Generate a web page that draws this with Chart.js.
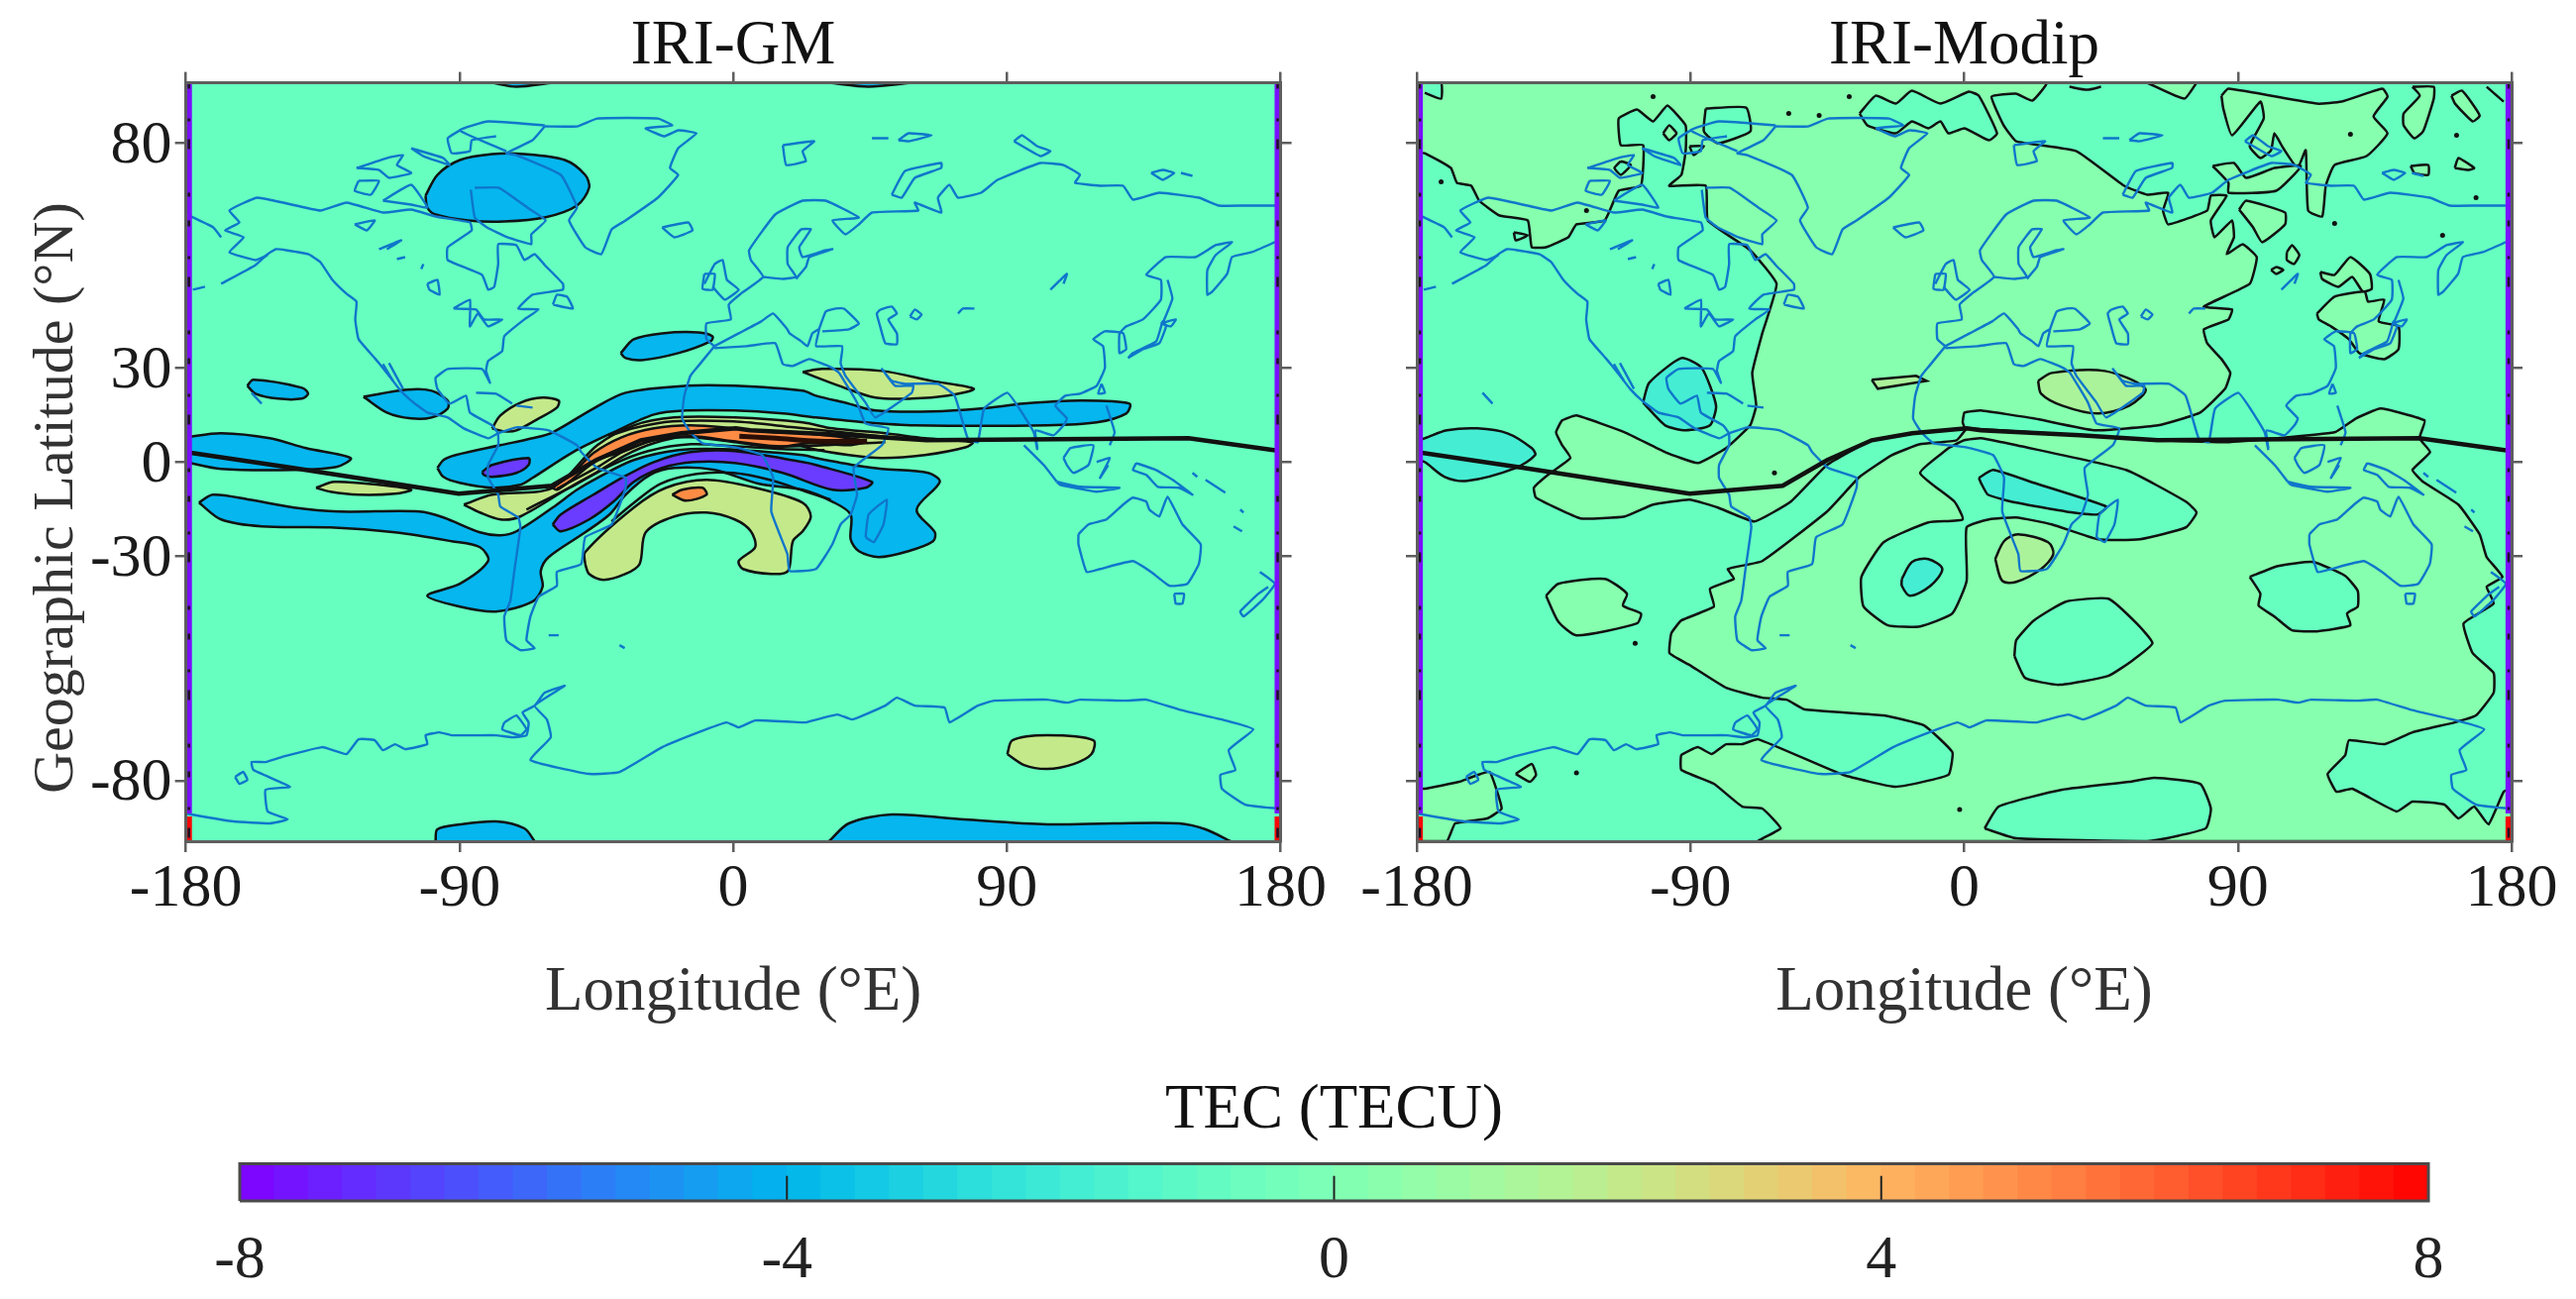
<!DOCTYPE html>
<html>
<head>
<meta charset="utf-8">
<script src="https://cdn.jsdelivr.net/npm/chart.js@4/dist/chart.umd.js"></script>
<style>
body { margin: 0; background: #fff; width: 2600px; height: 1311px; overflow: hidden; position: relative; }
canvas { position: absolute; }
</style>
</head>
<body>
<canvas id="gm" width="1360" height="1060" style="left:0;top:0"></canvas>
<canvas id="modip" width="1260" height="1060" style="left:1340px;top:0"></canvas>
<canvas id="bar" width="2600" height="221" style="left:0;top:1090px"></canvas>
<script>
// y values are map heights on the stretched latitude axis, tick positions below
var lonTicks = [-180, -90, 0, 90, 180];
var latTicks = [-80, -30, 0, 30, 80];
var latTickHeights = [-322, -95, 0, 95, 322];
var mapTop = 383;
var colorbarTicks = [-4, 0, 4];
var colorbarBands = [-7.875,-7.625,-7.375,-7.125,-6.875,-6.625,-6.375,-6.125,-5.875,-5.625,-5.375,-5.125,-4.875,-4.625,-4.375,-4.125,
  -3.875,-3.625,-3.375,-3.125,-2.875,-2.625,-2.375,-2.125,-1.875,-1.625,-1.375,-1.125,-0.875,-0.625,-0.375,-0.125,
  0.125,0.375,0.625,0.875,1.125,1.375,1.625,1.875,2.125,2.375,2.625,2.875,3.125,3.375,3.625,3.875,
  4.125,4.375,4.625,4.875,5.125,5.375,5.625,5.875,6.125,6.375,6.625,6.875,7.125,7.375,7.625,7.875];

var magneticEquator = [[-180,10],[-144.8,-6],[-90.3,-32],[-59.7,-24],[-45,2],[-30.4,22],[-17.1,29],[0.8,34],[5.5,32],[38,27],[63.6,22],[149.7,24],[180,11]];

var coastlines = [
  // north america pacific side, down to panama
  [[-168.4,180],[-157.1,199],[-153.1,210],[-150.4,215],[-147.1,214],[-139.8,210],[-135.8,202],[-131.8,184],[-127.2,170],[-123.9,162],[-124.3,144],[-123.2,124],[-117.9,105],[-113.9,90],[-109.9,74],[-105.9,62],[-100.6,50],[-93.9,45],[-88.6,34],[-80.6,24],[-77.3,29]],
  // south america
  [[-77.3,29],[-77.3,17],[-80.6,-3],[-80.6,-16],[-77.3,-33],[-76.6,-45],[-70.7,-56],[-70,-66],[-72,-110],[-73.3,-140],[-75.3,-156],[-74.6,-180],[-70,-190],[-65.3,-188],[-68,-180],[-66.7,-156],[-64,-136],[-58,-125],[-58,-111],[-50,-103],[-48.7,-76],[-40,-63],[-35.4,-26],[-35.4,-16],[-44.7,-6],[-50,10],[-51.4,17],[-60.7,32],[-71.3,35],[-77.3,29]],
  // alaska, arctic coast, hudson bay, atlantic and gulf
  [[-153.1,209],[-157.1,204],[-165.7,212],[-161,227],[-167.1,234],[-162.4,242],[-165.7,254],[-156.4,267],[-135.8,254],[-127.2,262],[-115.2,252],[-105.9,255],[-97.9,248],[-86.6,242],[-86,234],[-93.9,217],[-93.9,204],[-82.6,189],[-80.6,174],[-78.6,177],[-77.3,200],[-77.3,220],[-71.3,219],[-68.7,204],[-65.3,210],[-62,199],[-56,180],[-56,174],[-66,169],[-70.7,155],[-64,154],[-68.7,144],[-75.3,127],[-76,112],[-80.6,102],[-81.3,92],[-80,80],[-82.6,94],[-93.9,94],[-97.9,85],[-97.3,74],[-93.3,59],[-87.9,67],[-86.6,50],[-79.3,37],[-77.3,29]],
  [[-115.2,99],[-111.9,82]],
  [[-113.2,100],[-108.6,74]],
  [[-59.3,159],[-58,169],[-54.7,167],[-52.7,155],[-59.3,159]],
  [[-92,155],[-86.6,164],[-86.6,137],[-84,150],[-80.6,137],[-76,144],[-82,144],[-84.6,154],[-92,155]],
  // greenland
  [[-62,339],[-51.4,339],[-44.7,347],[-24.8,347],[-20.1,340],[-28.8,337],[-22.8,329],[-18.1,335],[-12.1,332],[-18.1,317],[-20.8,297],[-18.1,290],[-24.8,267],[-35.4,244],[-40,235],[-43.4,210],[-48.7,217],[-54,244],[-51.4,257],[-56.7,290],[-71.3,310],[-74.6,312],[-66,325],[-62,339]],
  // canadian arctic
  [[-74.6,314],[-89.9,335],[-80.6,344],[-62,340]],
  [[-89.9,335],[-93.9,327],[-92.6,312],[-86.6,314],[-86,325],[-78,329]],
  [[-123.9,297],[-113.9,307],[-108.6,310],[-110.6,300],[-105.9,292],[-113.2,287],[-116.5,295],[-123.9,297]],
  [[-123.2,284],[-116.5,284],[-119.2,270],[-124.5,274],[-123.2,284]],
  [[-105.9,317],[-95.3,307],[-93.3,300],[-101.9,309],[-105.9,317]],
  [[-85,277],[-77,277],[-67.7,257],[-61.7,244],[-66.4,230],[-66.4,220],[-74.3,227],[-81,237],[-85,247],[-86.3,275]],
  [[-115.2,264],[-105.9,280],[-100.6,257],[-105.9,260],[-115.2,264]],
  [[-124.5,240],[-117.9,244],[-120.5,234],[-124.5,240]],
  [[-116.5,215],[-109.2,224],[-113.9,215]],
  [[-110.6,205],[-107.9,207]],
  [[-102.6,195],[-101.9,200]],
  [[-100.6,180],[-97.3,184],[-96.6,169],[-99.9,174],[-100.6,180]],
  // iceland, britain, ireland
  [[-23.4,237],[-14.8,242],[-13.4,234],[-19.4,227],[-23.4,237]],
  [[-9.5,180],[-6.1,200],[-3.5,204],[-2.1,184],[1.8,174],[-2.8,164],[-6.8,177]],
  [[-9.5,190],[-6.1,190],[-6.8,174],[-10.1,175],[-9.5,190]],
  // africa
  [[-6.2,117],[-11.5,97],[-14.1,87],[-16.1,67],[-16.8,44],[-14.1,30],[-10.1,19],[0.5,15],[9.5,7],[13.1,-16],[12.5,-50],[17.8,-93],[18.5,-110],[27.2,-108],[32.6,-83],[35.3,-63],[38.6,-53],[40.7,-33],[39.6,-6],[48.9,17],[51,34],[43.5,39],[40.7,60],[34.8,90],[32.6,95],[25,104],[19.6,97],[16.3,99],[13.8,120],[4.5,117],[-6.2,115]],
  [[43.5,-76],[44.5,-53],[50.5,-38],[49.4,-63],[46.2,-81],[43.5,-76]],
  // eurasia, atlantic and arctic side
  [[-6.2,117],[-8.8,124],[-8.8,140],[-0.8,144],[-1.5,159],[2.5,170],[9.8,187],[5.8,204],[5.2,214],[13.8,250],[22.8,264],[30.4,264],[41.3,247],[32.6,244],[36.9,230],[41.3,240],[45.6,252],[60.8,254],[59.7,262],[68.4,252],[67.3,267],[71.1,280],[73.9,267],[81.5,272],[86.9,285],[101,302],[108.6,300],[114,290],[112.4,282],[120.6,279],[128.2,279],[131.4,265],[140.1,272],[153.1,267],[159.7,259],[168.3,259],[180,259]],
  [[9.8,187],[16.3,185],[20.6,187],[17.9,200],[17.9,217],[22.3,235],[25.5,235],[21.7,217],[22.8,207],[30.4,214],[32.6,215],[25,207],[23.9,197],[20.6,185]],
  // mediterranean north, arabia, india, indochina
  [[-6.2,117],[1.8,130],[9.2,142],[13.1,150],[17.8,134],[18.5,130],[22.3,122],[24.4,117],[26,130],[28.2,134],[27.2,117],[35.8,117],[35.3,100],[36.9,87],[43.5,60],[46.7,45],[58.7,70],[59.2,77],[53.2,77],[48.9,94],[52.1,82],[56.5,79],[67.3,79],[72.8,67],[77.1,24],[80.4,20],[82.5,54],[90.1,70],[94.5,52],[98.8,30],[100,12]],
  [[28.2,134],[30.4,152],[33.7,155],[36.4,155],[41.3,140],[38,134],[29.3,132]],
  // far east
  [[178.1,222],[170.5,212],[164,207],[162.4,190],[157.5,172],[155.9,169],[155.9,194],[158.6,209],[164,222],[158.6,219],[152,207],[142.3,207],[135.8,189],[140.6,184],[140.6,164],[134.7,144],[129.2,137],[127,130],[127,110],[129.2,114],[128.2,130],[122.2,132],[118.4,124],[121.6,117],[122.2,95],[119.5,77],[114,69],[109.2,67],[105.9,57],[109.7,44],[108.6,37],[105.3,27],[99.4,32],[100,14]],
  [[142.8,184],[144.4,165],[141.2,140]],
  [[129.8,105],[134.7,114],[140.1,120],[142.3,137],[141.2,142],[139.1,122],[131.4,110],[129.8,105]],
  [[140.6,140],[145.5,144],[143.9,137],[140.6,140]],
  [[121.1,79],[122.2,70],[120,69],[121.1,79]],
  [[104.3,174],[109.7,190],[108.6,180]],
  [[73.9,150],[75.5,155],[79.3,155]],
  [[48.3,154],[52.1,157],[53.8,150],[51,144],[53.8,130],[53.8,119],[50,120],[48.3,137],[47.2,150],[48.3,154]],
  [[58.1,147],[59.7,154],[61.9,149],[60.3,144],[58.1,147]],
  // arctic islands
  [[92.3,324],[95,330],[99.9,319],[104.3,314],[101,309],[92.3,324]],
  [[52.1,270],[56.5,294],[68.4,302],[68.4,297],[59.7,287],[55.4,267],[52.1,270]],
  [[16.3,320],[26.6,324],[22.8,314],[23.9,304],[17.4,300],[16.3,320]],
  [[45.6,327],[51,327]],
  [[54.3,325],[57.6,332],[65.2,330],[57.6,324],[54.3,325]],
  [[137.4,292],[141.2,295],[145,292],[141.2,285],[137.4,292]],
  [[147.2,292],[151,289]],
  [[-179.7,250],[-171,237],[-168.4,227]],
  // indonesia, pacific
  [[95.6,17],[102.1,-3],[106.4,-20]],
  [[106.4,-20],[114,-25],[127,-26],[119.5,-30],[107.5,-23],[106.4,-20]],
  [[108.6,4],[110.8,14],[118.4,17],[116.8,-3],[111.9,-11],[109.7,-3],[108.6,4]],
  [[119.5,0],[123.8,4],[120.6,-16],[123.3,-3]],
  [[132.5,-1],[139,-8],[144.5,-18],[151,-33],[146.6,-26],[139.6,-25],[135.8,-13],[131.4,-8],[132.5,-1]],
  [[151,-11],[152.6,-15]],
  [[122.7,57],[125.4,30],[123.8,17]],
  [[155.3,-18],[161.8,-31]],
  [[166.7,-48],[167.8,-51]],
  [[164.5,-65],[167.3,-70]],
  [[113.5,-73],[116.8,-63],[122.7,-58],[128.2,-43],[131.4,-36],[135.8,-40],[136.8,-48],[140.1,-55],[142.8,-35],[147.7,-63],[153.7,-83],[153.1,-103],[149.3,-123],[143.4,-125],[137.4,-111],[131.4,-100],[120.6,-108],[116.2,-111],[113.5,-83],[113.5,-73]],
  [[145,-133],[148.2,-133],[147.7,-143],[145.5,-143],[145,-133]],
  [[173.2,-111],[178.1,-123],[173.8,-140],[167.8,-156],[166.7,-151],[172.7,-133],[175.9,-126]],
  // antarctica
  [[-180,-355],[-164.4,-363],[-152.4,-365],[-146.5,-361],[-153.1,-353],[-153.8,-331],[-145.8,-328],[-157.8,-311],[-158.4,-303],[-153.8,-303],[-148.5,-298],[-135.2,-288],[-127.2,-295],[-123.2,-280],[-117.9,-281],[-115.2,-291],[-111.2,-285],[-107.9,-290],[-100.6,-285],[-101.2,-276],[-96.6,-273],[-92.6,-276],[-78,-276],[-72.7,-278],[-68,-276],[-67.3,-263],[-69.3,-253],[-65.3,-246],[-62,-233],[-55.4,-226],[-65.3,-246],[-61.3,-260],[-60,-278],[-66.7,-301],[-47.4,-315],[-37.4,-313],[-23.4,-288],[-11.5,-273],[-2.2,-263],[1.8,-268],[7.2,-261],[22.8,-263],[23.9,-263],[34.2,-255],[39.1,-260],[50,-246],[53.8,-238],[59.7,-246],[69.5,-248],[71.1,-263],[80.4,-246],[85.8,-241],[103.2,-240],[109.7,-243],[114,-240],[129.2,-241],[135.8,-240],[146.6,-250],[161.8,-261],[171,-270],[162.9,-291],[165.1,-311],[160.2,-316],[160.7,-330],[168.3,-346],[179.2,-350],[180,-350]],
  [[-75.3,-263],[-76,-270],[-70,-276],[-68,-270],[-71.3,-256],[-75.3,-263]],
  [[-163.8,-318],[-161.1,-313],[-159.8,-321],[-162.4,-325],[-163.8,-318]],
  [[-60.7,-175],[-57.4,-175]],
  [[-37.4,-185],[-35.7,-188]],
  [[-84.6,70],[-78,69],[-72.7,59]],
  [[-71.3,57],[-66,55]],
  [[-158.4,70],[-155.1,59]],
  [[-177.7,174],[-173.7,177]]
];

// IRI-GM filled contours
var gmBlueNorth = [[-101.2,269],[-97.3,290],[-89.9,305],[-79.3,311],[-68.7,311],[-55.4,305],[-48.7,290],[-47.4,277],[-51.4,259],[-62,247],[-75.3,243],[-87.3,244],[-97.9,250],[-100.6,257],[-101.2,269]];
var gmBlueSpain = [[-37,110],[-32.7,124],[-23.4,130],[-11.5,131],[-6.8,127],[-7.4,122],[-18.1,110],[-30.1,103],[-35.4,105],[-37,110]];
var gmBlueHawaii = [[-159.8,77],[-157.8,83],[-141.8,75],[-139.8,69],[-141.8,64],[-149.8,64],[-157.1,69],[-159.8,77]];
var gmBlueMexico = [[-121.6,66],[-107.2,73],[-99.2,72],[-93.9,62],[-93.9,54],[-99.2,45],[-105.9,44],[-113.9,50],[-121.6,66]];
var gmYellowCaribbean = [[-79.3,34],[-76.6,47],[-69.9,60],[-62.7,65],[-57.4,62],[-58,55],[-64,44],[-71.3,32],[-75.3,31],[-79.3,34]];
var gmBluePacific = [[-180,25],[-168.4,29],[-152.4,24],[-140.5,14],[-125.8,4],[-130.5,-5],[-144.5,-8],[-168.4,-7],[-180,0]];
var gmYellowPacific = [[-137.2,-26],[-131.2,-20],[-116.5,-23],[-105.9,-28],[-111.2,-32],[-123.2,-33],[-132.5,-30],[-137.2,-26]];
var gmBlueArch = [[-97.3,-6],[-95.3,2],[-91.3,7],[-76.6,17],[-66,24],[-59.4,30],[-46,54],[-35.4,70],[-15.5,77],[0.5,77],[22.8,72],[27.2,67],[38,59],[46.7,52],[65.2,51],[81.5,54],[95.6,59],[114,62],[130.3,59],[129.2,49],[119.5,40],[103.2,37],[59.7,37],[43.5,40],[27.2,45],[16.3,49],[0.5,52],[-15.5,52],[-26.1,48],[-39.4,30],[-52.7,10],[-66,-16],[-70,-23],[-79.3,-26],[-90,-21],[-95.3,-15],[-97.3,-6]];
var gmYellowRidge = [[-88.6,-43],[-79.3,-33],[-59.4,-26],[-44.7,17],[-32.7,37],[-19.5,45],[0.5,45],[22.8,40],[32.6,34],[50,29],[63,24],[78.7,20],[76.6,15],[63,7],[48.9,4],[38,7],[25,14],[13.8,24],[0.5,28],[-14.1,27],[-26.1,19],[-35.4,7],[-44.7,-10],[-54,-26],[-70,-55],[-76.6,-58],[-83.3,-51],[-88.6,-43]];
var gmOrangeRidge = [[-59.4,-26],[-52.7,-11],[-46,9],[-36.7,25],[-26.1,34],[-14.1,37],[0.5,34],[13.8,30],[23.9,29],[43.5,21],[38,17],[25,19],[13.8,15],[0.5,20],[-14.1,25],[-26.1,22],[-36.7,10],[-44.7,2],[-54,-20],[-58,-28],[-59.4,-26]];
var gmBlueSouth = [[-175.7,-41],[-171.1,-33],[-159.1,-38],[-144.5,-46],[-129.8,-50],[-103.2,-50],[-95.3,-56],[-83.3,-71],[-76.6,-74],[-71.3,-70],[-59.4,-46],[-51.4,-28],[-44.7,-16],[-32.7,2],[-18.1,12],[-3.5,13],[22.8,7],[27.2,4],[41.3,-4],[48.9,-7],[64.1,-11],[67.9,-20],[60.3,-48],[66.3,-71],[65.7,-80],[57.6,-90],[47.8,-96],[41.3,-90],[38.6,-78],[38.6,-53],[32.6,-40],[22.8,-28],[8.5,-22],[-6.1,-8],[-19.4,-6],[-27.4,-13],[-35.4,-33],[-40.7,-53],[-48.7,-71],[-60.7,-96],[-63.3,-110],[-62.7,-126],[-66,-141],[-78,-151],[-89.9,-146],[-100.6,-135],[-89.9,-123],[-80.6,-100],[-83.3,-86],[-92.6,-80],[-111.2,-71],[-132.5,-66],[-155.1,-65],[-168.4,-58],[-175.7,-41]];
var gmPurpleCrescent = [[-59.4,-63],[-56.7,-53],[-46,-33],[-36.7,-16],[-26.1,0],[-14.1,10],[0.5,11],[22.8,0],[27.2,-3],[45.6,-20],[43.5,-26],[32.6,-28],[16.3,-11],[0.5,-1],[-12.8,0],[-23.4,-6],[-32.7,-20],[-39.4,-40],[-47.4,-58],[-56.7,-70],[-59.4,-63]];
var gmPurpleLobe = [[-82.6,-10],[-79.3,-3],[-67.3,4],[-67.3,-3],[-71.3,-11],[-79.3,-15],[-82,-13],[-82.6,-10]];
var gmYellowHorseshoe = [[-48.7,-103],[-48.7,-91],[-32.7,-46],[-22.1,-26],[-8.8,-18],[7.2,-26],[22.8,-41],[25.5,-55],[22.8,-70],[19.6,-80],[18,-110],[12.5,-113],[3.2,-108],[1.8,-100],[7.2,-86],[5.8,-70],[0.5,-58],[-8.8,-51],[-19.4,-55],[-28.8,-71],[-30.8,-103],[-35.4,-113],[-42.7,-119],[-47.4,-113],[-48.7,-103]];
var gmOrangeSmall = [[-20.1,-33],[-16.8,-28],[-10.1,-26],[-8.8,-33],[-15.5,-39],[-20.1,-33]];
var gmYellowAntarctic = [[90.1,-295],[91.8,-281],[103.2,-276],[118.4,-281],[117.8,-295],[111.9,-305],[103.2,-310],[95.6,-306],[90.1,-295]];
var gmBluePoleEast = [[31.5,-383],[38,-365],[52.1,-356],[76,-361],[103.2,-366],[124.9,-365],[146.6,-365],[155.3,-371],[163.5,-383]];
var gmBluePoleWest = [[-97.9,-383],[-97.3,-371],[-89.9,-366],[-78,-363],[-68.7,-370],[-65.3,-383]];
var gmBlueTopWest = [[-79.3,383],[-71.3,379],[-59.4,383]];
var gmBlueTopEast = [[31.5,383],[44.5,379],[58.7,383]];
var gmYellowPersia = [[22.8,91],[29.3,94],[48.9,92],[65.2,82],[79.1,74],[70.6,67],[58.7,64],[46.7,65],[34.8,77],[22.8,91]];
var gmRidgeLines = [
  [[-41,26],[-33,34],[-20,41],[0,41],[20,35],[45,27],[60,23]],
  [[-58,-27],[-44,-4],[-36,11],[-26,22],[-14,26],[0,21],[14,16],[30,17],[50,20]],
  [[-68,-48],[-52,-23],[-40,-3],[-28,11],[-14,18],[0,16],[16,13],[30,12]],
  [[-40,-60],[-33,-42],[-24,-22],[-12,-12],[0,-11],[12,-18],[24,-30],[32,-38]]
];
var gmRidgeCore = [[2,26],[14,24],[28,21],[44,21]];

// IRI-Modip filled contours
var modipGreenNorth = [[-180,312],[-180,383],[27,383],[22.4,365],[17,372],[9,369],[13,340],[17.1,324],[36.9,314],[52.6,279],[60.2,270],[67.1,272],[65.4,254],[67.1,240],[79.9,254],[81.1,269],[86.3,269],[81.1,244],[82.3,227],[88.1,244],[88.7,227],[86.3,210],[91.6,220],[96.2,207],[93.9,180],[78.8,157],[88.1,154],[86.9,144],[78.8,134],[79.9,120],[84.6,104],[87.5,90],[85.8,74],[77.6,50],[63.7,37],[42.7,32],[22.9,44],[5.5,52],[0.1,50],[-0.5,40],[0.1,34],[-17.1,29],[-30.4,22],[-45.1,-3],[-57,-40],[-69,-60],[-81,-46],[-90.3,-38],[-102.3,-43],[-111.6,-55],[-126.2,-57],[-140.8,-36],[-141.5,-26],[-136.9,-13],[-129.5,4],[-132.2,17],[-134.2,30],[-132.2,42],[-127.5,47],[-111.6,30],[-98.3,10],[-87.6,-1],[-78.3,14],[-70.4,37],[-68.4,57],[-69.7,90],[-66.4,130],[-61.7,180],[-70.4,214],[-84.3,244],[-85,279],[-97,279],[-93,290],[-91.6,314],[-91.6,340],[-97.6,360],[-102.3,344],[-107.6,356],[-113.6,347],[-112.9,320],[-105.6,320],[-106.3,279],[-113.6,274],[-118.2,244],[-127.5,240],[-130.2,227],[-137.5,217],[-142.2,217],[-143.5,244],[-152.8,249],[-159.5,264],[-162.1,279],[-166.8,282],[-168.8,297],[-177.4,312],[-180,312]];
var modipGreenSouth = [[0.8,34],[38,27],[63.6,22],[86,20],[121.8,30],[128.8,44],[136.9,54],[151.4,42],[149.7,24],[153.2,10],[147.4,-8],[150.9,-20],[162.5,-43],[169.5,-73],[171.8,-96],[177,-116],[171.8,-126],[174.1,-143],[164.2,-163],[167.2,-193],[174.1,-213],[174.1,-233],[168.3,-256],[161.3,-263],[147.4,-273],[138.1,-285],[126.5,-281],[125.3,-296],[119.5,-315],[122.4,-333],[127.6,-330],[142.2,-353],[147.4,-343],[157.9,-346],[162.5,-360],[167.7,-348],[172.4,-366],[177.4,-333],[180,-330],[180,-383],[-67.7,-383],[-60.4,-370],[-66.4,-350],[-73,-348],[-82.3,-325],[-93,-311],[-93,-296],[-87.6,-288],[-83,-295],[-78.3,-285],[-73,-285],[-67.7,-280],[-39.8,-316],[-22.5,-328],[-5.2,-316],[-3.9,-293],[-13.2,-266],[-26.5,-256],[-52.4,-250],[-58.4,-240],[-66.4,-238],[-78.3,-228],[-90.3,-205],[-96.9,-193],[-96.3,-173],[-93,-160],[-82.3,-146],[-83.6,-128],[-75.7,-118],[-77.7,-108],[-66.4,-100],[-45.1,-50],[-34.4,-15],[-23.8,7],[-14.5,18],[-2.5,22],[0.8,34]];
var modipGreenPacific = [[-137.5,-135],[-133.5,-123],[-118.2,-118],[-110.9,-133],[-112.2,-145],[-106.3,-153],[-107.6,-163],[-127.5,-175],[-133.5,-161],[-137.5,-135]];
var modipGreenPole = [[-180,-330],[-177.4,-330],[-166.1,-323],[-156.1,-313],[-152.1,-350],[-156.8,-360],[-167.4,-365],[-170.1,-383],[-180,-383]];
var modipGreenIslands = [
  [[84.6,370],[86.9,377],[116,362],[124.1,364],[137.5,377],[139.2,369],[134.6,349],[139.2,332],[132.3,309],[121.8,300],[118.9,279],[117.7,248],[113.1,254],[112.3,315],[109.6,297],[104.9,317],[102,332],[100.9,315],[97.4,307],[93.9,319],[98.5,347],[97.4,364],[88.1,330],[85.2,357],[84.6,370]],
  [[81.7,299],[88.7,302],[92.7,287],[102,297],[110.7,299],[102.6,274],[86.9,272],[86.9,282],[81.7,299]],
  [[90.4,255],[92.7,264],[105.5,252],[105.5,240],[98,222],[95,237],[90.4,255]],
  [[106.1,212],[107.8,219],[110.2,209],[108.4,200],[106.1,204],[106.1,212]],
  [[100.9,194],[102.6,197],[104.9,194],[102.6,190],[100.9,194]],
  [[117.1,192],[121.8,189],[127,207],[133.4,190],[134,175],[131.1,172],[127.6,187],[123,177],[117.7,185],[117.1,192]],
  [[116,150],[121.8,167],[131.7,172],[132.8,162],[138.1,164],[136.3,142],[142.8,137],[142.8,114],[138.1,104],[129.9,110],[126.5,124],[120.6,137],[116.6,144],[116,150]],
  [[147.4,379],[154.4,379],[154.4,367],[150.9,334],[148,327],[144.5,340],[144.5,352],[149.8,370],[147.4,379]],
  [[160.2,370],[163.7,375],[169.5,350],[167.2,344],[161.4,362],[160.2,370]],
  [[161.3,297],[162.5,307],[167.7,297],[166,295],[161.3,297]],
  [[146.8,299],[152.6,300],[152.6,290],[148,292],[146.8,299]],
  [[60.2,383],[72.4,367],[76.4,383]],
  [[-99,332],[-97,340],[-94.6,332],[-97,325],[-99,332]],
  [[-147.5,-315],[-142.2,-305],[-140.8,-316],[-142.8,-323],[-147.5,-315]]
];
var modipTealIslands = [
  [[-177.4,383],[-172,383],[-172,367],[-177.4,373]],
  [[-85,357],[-71.7,358],[-70.3,334],[-81,322],[-85.6,334],[-85,357]],
  [[-34.4,352],[-29.1,370],[-22.5,362],[-17.2,375],[-7.8,362],[1.5,374],[4.8,370],[10.8,332],[8.1,325],[0.1,337],[-5.2,332],[-7.8,344],[-11.8,337],[-17.2,344],[-22.5,332],[-31.8,340],[-34.4,352]],
  [[-112.9,304],[-109.6,300],[-112.9,290],[-115,297],[-112.9,304]],
  [[-90.3,319],[-85.6,319],[-89,310],[-90.3,319]],
  [[-148.1,232],[-143.5,229],[-147.5,224],[-148.1,232]],
  [[16.5,-196],[17.1,-180],[22.9,-160],[33.4,-141],[47.4,-138],[56.7,-163],[61.9,-183],[55.5,-200],[47.4,-216],[31.1,-225],[20,-218],[16.5,-196]],
  [[93.9,-116],[103.2,-105],[114.8,-101],[125.3,-115],[129.4,-130],[129.4,-146],[125.9,-153],[127,-165],[116,-171],[107.8,-170],[102,-156],[96.8,-145],[97.4,-133],[93.9,-116]],
  [[6.7,-370],[11.3,-348],[32.2,-331],[54.3,-323],[62.5,-319],[77.6,-325],[81.1,-350],[79.4,-370],[60.2,-383],[17.1,-380],[6.7,-370]],
  [[-5.2,14],[-14.5,-11],[-3.2,-40],[-0.5,-58],[-11.8,-61],[-26.5,-81],[-33.8,-116],[-33.1,-146],[-25.1,-165],[-14.5,-166],[-3.9,-153],[0.8,-120],[0.8,-66],[8.1,-58],[17.1,-56],[28.8,-63],[43.9,-78],[57.8,-78],[72.9,-66],[76.4,-51],[72.9,-40],[53.2,-8],[17.1,17],[12.5,20],[5.5,24],[0,22],[-5.2,14]]
];
var modipDeepAfrica = [[4.8,-16],[9.5,-8],[22.9,-21],[46.8,-45],[43.9,-53],[35.7,-51],[17.1,-41],[7.8,-33],[5.5,-21],[4.8,-16]];
var modipDeepAtlantic = [[-20.5,-118],[-17.2,-101],[-11.8,-98],[-7.2,-108],[-11.1,-125],[-17.8,-135],[-20.5,-125],[-20.5,-118]];
var modipDeepPacific = [[-180,22],[-177.4,24],[-170.1,32],[-160.1,34],[-150.2,29],[-142.2,14],[-141.1,7],[-147.5,-6],[-163.4,-19],[-170.8,-15],[-177.4,0],[-180,2]];
var modipDeepCaribbean = [[-105.6,60],[-103.6,80],[-93,105],[-86.3,95],[-81.6,57],[-83.6,37],[-91.6,32],[-98.3,37],[-105.6,60]];
var modipLightPersia = [[24.3,82],[28.8,90],[46.2,92],[59.6,74],[54.3,57],[43.9,49],[32.2,57],[25.3,69],[24.3,82]];
var modipLightSahara = [[-30.4,83],[-15.8,87],[-12.4,82],[-28.4,74],[-30.4,83]];
var modipLightMadagascar = [[10.2,-98],[13.1,-80],[17.7,-73],[27.6,-81],[29.3,-93],[25.3,-108],[17.1,-121],[12.5,-120],[10.2,-98]];
var modipOpenLines = [
  [[171.8,379],[177.4,364]],
  [[34.6,379],[40.4,376],[45,379]]
];
var modipDots = [[-124.2,254],[-102.3,369],[-57.7,352],[-47.7,350],[-37.8,369],[127,331],[161.9,330],[121.8,241],[157.3,229],[168.3,267],[-127.5,-314],[-108.2,-183],[-62.4,-11],[-1.5,-351],[-172,283]];

var edgePurple = [
  [[-180,383],[-178,383],[-178,-355],[-180,-355]],
  [[178,383],[180,383],[180,-355],[178,-355]]
];
var edgeRed = [
  [[-180,-358],[-178,-358],[-178,-383],[-180,-383]],
  [[178,-358],[180,-358],[180,-383],[178,-383]]
];
var edgeSpeckle = [
  [[-179,383],[-179,-383]],
  [[179,383],[179,-383]]
];
var plotFrame = [[-180,-383],[-180,383],[180,383],[180,-383],[-180,-383]];

var TEAL = '#66FFC0', GREEN = '#86FFAE', DEEP = '#45EDD3', LIGHT = '#ABF39B';
var BLUE = '#06B6EE', YELLOW = '#C3E98A', ORANGE = '#FF8C45', PURPLE = '#6A3CFF';
var INK = '#111111', COAST = '#0F76CB';
var SERIF = 'Liberation Serif';

function toXY(pts) {
  return pts.map(function(p) { return {x: p[0], y: p[1]}; });
}
function patch(pts, color, tension) {
  return {data: toXY(pts), fill: 'shape', backgroundColor: color, borderColor: INK, borderWidth: 2.5,
    tension: tension === undefined ? 0.3 : tension, pointRadius: 0};
}
function stroke(pts, color, width, tension) {
  return {data: toXY(pts), fill: false, borderColor: color, borderWidth: width, tension: tension || 0, pointRadius: 0};
}
function plain(pts, color) {
  return {data: toXY(pts), fill: 'shape', backgroundColor: color, borderWidth: 0, tension: 0, pointRadius: 0};
}
function overlays() {
  var out = coastlines.map(function(c) { return stroke(c, COAST, 2.4, 0.12); });
  out.push(stroke(magneticEquator, INK, 4.5, 0));
  edgePurple.forEach(function(e) { out.push(plain(e, '#7A10FF')); });
  edgeRed.forEach(function(e) { out.push(plain(e, '#F80808')); });
  edgeSpeckle.forEach(function(e) {
    var s = stroke(e, '#1A1020', 2.5);
    s.borderDash = [6, 30, 3, 18, 10, 44, 4, 24];
    out.push(s);
  });
  return out;
}
function panelChart(id, title, layers, leftWidth, rightWidth, showYLabels) {
  var frameColor = '#5E5E5E';
  function axisBase(pos) {
    return {
      position: pos,
      border: {color: frameColor, width: 3, z: 1},
      grid: {drawOnChartArea: false, drawTicks: true, tickLength: 11, tickColor: frameColor, lineWidth: 2.5, z: 1}
    };
  }
  function lonAxis(pos, size, labels) {
    var a = axisBase(pos);
    a.type = 'linear'; a.min = -180; a.max = 180;
    a.afterBuildTicks = function(s) { s.ticks = lonTicks.map(function(v) { return {value: v}; }); };
    a.afterFit = function(s) { s.height = size; };
    a.ticks = {display: labels, autoSkip: false, maxRotation: 0, minRotation: 0, padding: 7, color: '#1a1a1a',
      font: {family: SERIF, size: 62, lineHeight: 1}};
    return a;
  }
  function latAxis(pos, size, labels) {
    var a = axisBase(pos);
    a.type = 'linear'; a.min = -mapTop; a.max = mapTop;
    a.afterBuildTicks = function(s) { s.ticks = latTickHeights.map(function(v) { return {value: v}; }); };
    a.afterFit = function(s) { s.width = size; };
    a.ticks = {display: labels, autoSkip: false, padding: 3, labelOffset: 3, color: '#1a1a1a',
      font: {family: SERIF, size: 62, lineHeight: 1},
      callback: function(v) { return latTicks[latTickHeights.indexOf(v)]; }};
    return a;
  }
  var x = lonAxis('bottom', 211, true);
  x.title = {display: true, text: 'Longitude (\u00B0E)', color: '#333', padding: {top: 0, bottom: 26},
    font: {family: SERIF, size: 63, lineHeight: 1}};
  var y = latAxis('left', leftWidth, showYLabels);
  if (showYLabels) {
    // trailing spaces push the rotated label down the axis, as in the figure
    y.title = {display: true, text: 'Geographic Latitude (\u00B0N)     ', color: '#333', padding: {top: 29, bottom: 0},
      font: {family: SERIF, size: 58, lineHeight: 1}};
  }
  return new Chart(document.getElementById(id), {
    type: 'line',
    data: {datasets: layers.slice().reverse()},
    options: {
      responsive: false, animation: false, devicePixelRatio: 1,
      layout: {autoPadding: false, padding: 0},
      plugins: {
        legend: {display: false}, tooltip: {enabled: false},
        title: {display: true, text: title, color: '#111', fullSize: false, padding: {top: 24.2, bottom: 0},
          font: {family: SERIF, size: 63, weight: 'normal', lineHeight: 0.75}}
      },
      scales: {x: x, xTop: lonAxis('top', 12.15, false), y: y, yRight: latAxis('right', rightWidth, false)}
    }
  });
}

var gmLayers = [plain(plotFrame, TEAL)].concat([
  patch(gmBlueNorth, BLUE), patch(gmBlueSpain, BLUE), patch(gmBlueHawaii, BLUE), patch(gmBlueMexico, BLUE),
  patch(gmYellowCaribbean, YELLOW), patch(gmBluePacific, BLUE), patch(gmYellowPacific, YELLOW),
  patch(gmBlueArch, BLUE), patch(gmYellowRidge, YELLOW), patch(gmOrangeRidge, ORANGE),
  patch(gmBlueSouth, BLUE), patch(gmPurpleCrescent, PURPLE), patch(gmPurpleLobe, PURPLE),
  patch(gmYellowHorseshoe, YELLOW), patch(gmOrangeSmall, ORANGE), patch(gmYellowAntarctic, YELLOW),
  patch(gmBluePoleEast, BLUE), patch(gmBluePoleWest, BLUE), patch(gmBlueTopWest, BLUE), patch(gmBlueTopEast, BLUE),
  patch(gmYellowPersia, YELLOW)
]).concat(gmRidgeLines.map(function(l) { return stroke(l, INK, 2.5, 0.3); }))
  .concat([stroke(gmRidgeCore, '#2A0E06', 5, 0.3)])
  .concat(overlays());

var dotLayer = {data: toXY(modipDots), showLine: false, pointRadius: 2.5, pointBackgroundColor: INK, pointBorderWidth: 0};

var modipLayers = [plain(plotFrame, TEAL), patch(modipGreenNorth, GREEN, 0.12), patch(modipGreenSouth, GREEN, 0.12),
  patch(modipGreenPacific, GREEN, 0.2), patch(modipGreenPole, GREEN, 0.1)]
  .concat(modipGreenIslands.map(function(g) { return patch(g, GREEN, 0.15); }))
  .concat(modipTealIslands.map(function(g) { return patch(g, TEAL, 0.15); }))
  .concat([patch(modipDeepAfrica, DEEP, 0.15), patch(modipDeepAtlantic, DEEP), patch(modipDeepPacific, DEEP), patch(modipDeepCaribbean, DEEP, 0.2),
    patch(modipLightPersia, LIGHT), patch(modipLightSahara, LIGHT, 0), patch(modipLightMadagascar, LIGHT)])
  .concat(modipOpenLines.map(function(l) { return stroke(l, INK, 2.5, 0.2); }))
  .concat([dotLayer])
  .concat(overlays());

panelChart('gm', 'IRI-GM', gmLayers, 187.6, 67.4, true);
panelChart('modip', 'IRI-Modip', modipLayers, 90, 65, false);

function rainbow(v) {
  var t = (v + 8) / 16;
  var r = Math.abs(2 * t - 0.5), g = Math.sin(Math.PI * t), b = Math.cos(Math.PI * t / 2);
  return 'rgb(' + Math.round(r * 255) + ',' + Math.round(g * 255) + ',' + Math.round(b * 255) + ')';
}

var barSets = [{
  type: 'bar', order: 3,
  data: colorbarBands.map(function(v) { return {x: v, y: 1}; }),
  backgroundColor: colorbarBands.map(rainbow),
  barThickness: 35
}];
colorbarTicks.forEach(function(v) {
  barSets.push({type: 'line', order: 2, data: [{x: v, y: 0}, {x: v, y: 0.67}], borderColor: '#222', borderWidth: 2, pointRadius: 0});
});
barSets.push({type: 'line', order: 1, clip: false, data: [{x: -8, y: 0}, {x: -8, y: 1}, {x: 8, y: 1}, {x: 8, y: 0}, {x: -8, y: 0}],
  borderColor: '#4A4A4A', borderWidth: 3, pointRadius: 0});

new Chart(document.getElementById('bar'), {
  type: 'bar',
  data: {datasets: barSets},
  options: {
    responsive: false, animation: false, devicePixelRatio: 1,
    layout: {autoPadding: false, padding: {left: 242, right: 149, top: 0, bottom: 0}},
    plugins: {
      legend: {display: false}, tooltip: {enabled: false},
      title: {display: true, text: 'TEC (TECU)', color: '#111', fullSize: false, padding: {top: 6, bottom: 28},
        font: {family: SERIF, size: 63, weight: 'normal', lineHeight: 0.8}}
    },
    scales: {
      x: {type: 'linear', min: -8, max: 8, offset: false,
        afterBuildTicks: function(s) { s.ticks = [-8, -4, 0, 4, 8].map(function(v) { return {value: v}; }); },
        afterFit: function(s) { s.height = 99; },
        border: {display: false},
        grid: {display: false, offset: false, drawTicks: false},
        ticks: {autoSkip: false, maxRotation: 0, minRotation: 0, padding: 30, color: '#222',
          font: {family: SERIF, size: 62, lineHeight: 1}}},
      y: {display: false, min: 0, max: 1}
    }
  }
});
</script>
</body>
</html>
